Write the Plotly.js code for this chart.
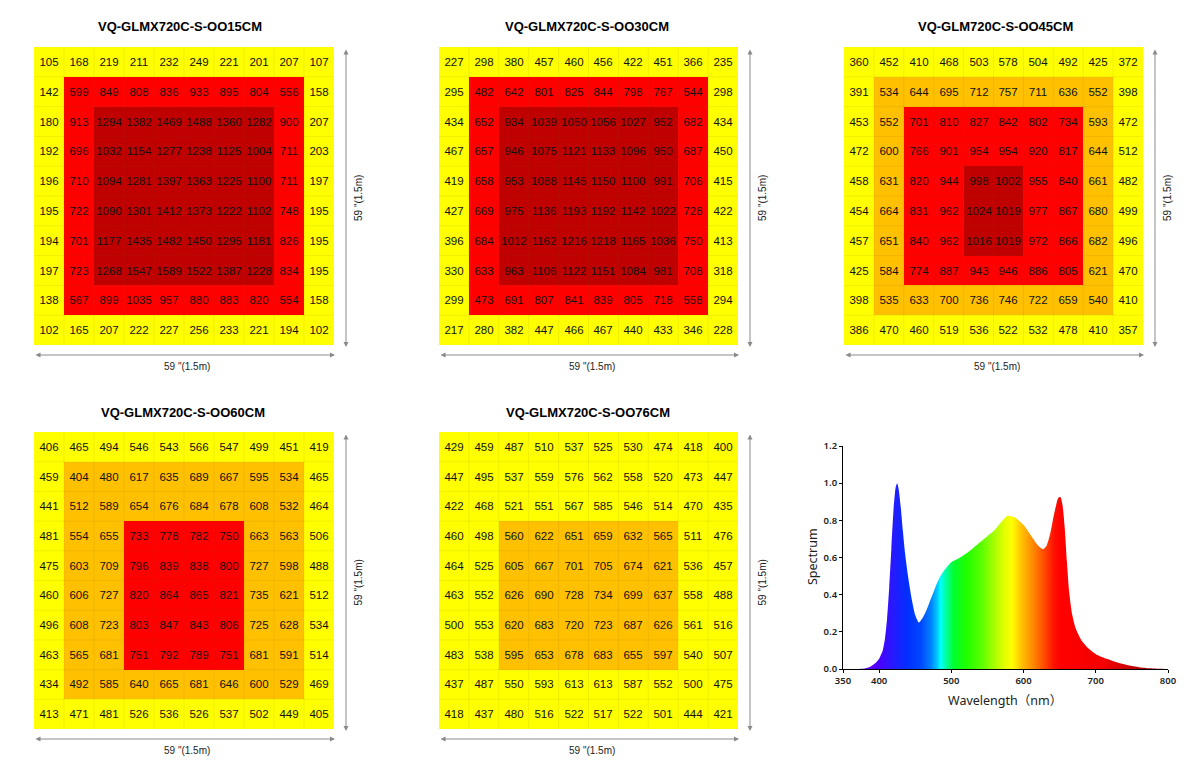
<!DOCTYPE html>
<html>
<head>
<meta charset="utf-8">
<script src="https://cdn.plot.ly/plotly-3.0.1.min.js"></script>
<style>html,body{margin:0;padding:0;background:#fff;}#chart{width:1200px;height:776px;}</style>
</head>
<body>
<div id="chart"></div>
<script>
// ---------- DATA ----------
const titles = ["VQ-GLMX720C-S-OO15CM", "VQ-GLMX720C-S-OO30CM", "VQ-GLM720C-S-OO45CM", "VQ-GLMX720C-S-OO60CM", "VQ-GLMX720C-S-OO76CM"];
const sizeLabel = '59 "(1.5m)';

const ppfd15 = [
  [105,168,219,211,232,249,221,201,207,107],
  [142,599,849,808,836,933,895,804,556,158],
  [180,913,1294,1382,1469,1488,1360,1282,900,207],
  [192,696,1032,1154,1277,1238,1125,1004,711,203],
  [196,710,1094,1281,1397,1363,1225,1100,711,197],
  [195,722,1090,1301,1412,1373,1222,1102,748,195],
  [194,701,1177,1435,1482,1450,1295,1181,826,195],
  [197,723,1268,1547,1589,1522,1387,1228,834,195],
  [138,567,899,1035,957,880,883,820,554,158],
  [102,165,207,222,227,256,233,221,194,102]
];
const ppfd30 = [
  [227,298,380,457,460,456,422,451,366,235],
  [295,482,642,801,825,844,798,767,544,298],
  [434,652,934,1039,1050,1056,1027,952,682,434],
  [467,657,946,1075,1121,1133,1096,950,687,450],
  [419,658,953,1088,1145,1150,1100,991,706,415],
  [427,669,975,1136,1193,1192,1142,1022,728,422],
  [396,684,1012,1162,1216,1218,1165,1036,750,413],
  [330,633,963,1106,1122,1151,1084,981,708,318],
  [299,473,691,807,841,839,805,718,558,294],
  [217,280,382,447,466,467,440,433,346,228]
];
const ppfd45 = [
  [360,452,410,468,503,578,504,492,425,372],
  [391,534,644,695,712,757,711,636,552,398],
  [453,552,701,810,827,842,802,734,593,472],
  [472,600,766,901,954,954,920,817,644,512],
  [458,631,820,944,998,1002,955,840,661,482],
  [454,664,831,962,1024,1019,977,867,680,499],
  [457,651,840,962,1016,1019,972,866,682,496],
  [425,584,774,887,943,946,886,805,621,470],
  [398,535,633,700,736,746,722,659,540,410],
  [386,470,460,519,536,522,532,478,410,357]
];
const ppfd60 = [
  [406,465,494,546,543,566,547,499,451,419],
  [459,404,480,617,635,689,667,595,534,465],
  [441,512,589,654,676,684,678,608,532,464],
  [481,554,655,733,778,782,750,663,563,506],
  [475,603,709,796,839,838,800,727,598,488],
  [460,606,727,820,864,865,821,735,621,512],
  [496,608,723,803,847,843,806,725,628,534],
  [463,565,681,751,792,789,751,681,591,514],
  [434,492,585,640,665,681,646,600,529,469],
  [413,471,481,526,536,526,537,502,449,405]
];
const ppfd76 = [
  [429,459,487,510,537,525,530,474,418,400],
  [447,495,537,559,576,562,558,520,473,447],
  [422,468,521,551,567,585,546,514,470,435],
  [460,498,560,622,651,659,632,565,511,476],
  [464,525,605,667,701,705,674,621,536,457],
  [463,552,626,690,728,734,699,637,558,488],
  [500,553,620,683,720,723,687,626,561,516],
  [483,538,595,653,678,683,655,597,540,507],
  [437,487,550,593,613,613,587,552,500,475],
  [418,437,480,516,522,517,522,501,444,421]
];
const ppfdAll = [ppfd15, ppfd30, ppfd45, ppfd60, ppfd76];

// colour zones (level, first row, last row, first col, last col); level 0 = yellow background
const zones15 = [[2,1,8,1,8],[3,2,7,2,7]];
const zones30 = [[2,1,8,1,8],[3,2,7,2,7]];
const zones45 = [[1,1,8,1,8],[2,2,7,2,7],[3,4,6,4,5]];
const zones60 = [[1,1,8,1,8],[2,3,7,3,6]];
const zones76 = [[1,3,7,2,7]];
const zonesAll = [zones15, zones30, zones45, zones60, zones76];

// spectrum
const wavelength = [350,370,380,385,390,395,400,405,408,411,414,417,420,423,425,427,430,433,436,440,445,450,455,461,466,470,475,480,485,490,500,510,520,530,540,550,560,570,578,585,590,600,610,620,627,632,637,641,645,648,651,654,657,660,663,667,672,680,690,700,715,730,745,760,775,790,800];
const spectrum   = [0,0,0.003,0.008,0.018,0.032,0.055,0.1,0.16,0.27,0.44,0.65,0.86,0.98,1.0,0.97,0.87,0.74,0.62,0.5,0.38,0.29,0.25,0.28,0.32,0.36,0.41,0.46,0.5,0.53,0.575,0.595,0.62,0.65,0.683,0.715,0.748,0.795,0.825,0.82,0.81,0.775,0.72,0.665,0.645,0.665,0.73,0.81,0.88,0.92,0.925,0.88,0.76,0.58,0.42,0.3,0.22,0.155,0.11,0.08,0.055,0.035,0.02,0.01,0.004,0.001,0];
const xTicks = [350,400,500,600,700,800];
const yTicks = [0,0.2,0.4,0.6,0.8,1.0,1.2];

// ---------- LAYOUT HELPERS ----------
const W = 1200, H = 776;
const px = v => v / W;
const py = v => 1 - v / H;
const boxes = [
  {x0:34, x1:334, y0:47, y1:345},
  {x0:439, x1:738, y0:47, y1:345},
  {x0:844, x1:1143, y0:47, y1:345},
  {x0:34, x1:334, y0:432, y1:729},
  {x0:439, x1:738, y0:432, y1:729}
];
const titlePos = [[180,27],[587,27],[995,27],[183,412],[588,412]];

const zoneColors = [[0,'#FFFF00'],[1/3,'#FFC000'],[2/3,'#FF0000'],[1,'#C00000']];

const traces = [];
const layout = {
  width: W, height: H,
  margin: {l:0, r:0, t:0, b:0},
  paper_bgcolor: '#ffffff', plot_bgcolor: '#ffffff',
  showlegend: false,
  shapes: [], annotations: []
};

ppfdAll.forEach((vals, i) => {
  const n = vals.length, m = vals[0].length;
  const z = vals.map(r => r.map(() => 0));
  zonesAll[i].forEach(([lvl, r0, r1, c0, c1]) => {
    for (let r = r0; r <= r1; r++) for (let c = c0; c <= c1; c++) z[r][c] = lvl;
  });
  const xa = 'x' + (i + 1), ya = 'y' + (i + 1);
  traces.push({
    type: 'heatmap', z: z, text: vals, texttemplate: '%{text}',
    textfont: {family: 'Liberation Sans, Arial, sans-serif', size: 11.5, color: '#111'},
    colorscale: zoneColors, zmin: 0, zmax: 3, showscale: false,
    hoverinfo: 'skip', xaxis: xa, yaxis: ya
  });
  const b = boxes[i];
  const axName = i === 0 ? '' : String(i + 1);
  layout['xaxis' + axName] = {domain: [px(b.x0), px(b.x1)], range: [-0.5, m - 0.5], visible: false, fixedrange: true, anchor: ya};
  layout['yaxis' + axName] = {domain: [py(b.y1), py(b.y0)], range: [n - 0.5, -0.5], visible: false, fixedrange: true, anchor: xa};
  // faint cell borders
  for (let k = 1; k < m; k++) layout.shapes.push({type:'line', xref:xa, yref:ya, x0:k-0.5, x1:k-0.5, y0:-0.5, y1:n-0.5, line:{color:'rgba(120,100,0,0.10)', width:1}, layer:'above'});
  for (let k = 1; k < n; k++) layout.shapes.push({type:'line', xref:xa, yref:ya, y0:k-0.5, y1:k-0.5, x0:-0.5, x1:m-0.5, line:{color:'rgba(120,100,0,0.10)', width:1}, layer:'above'});
  // title
  layout.annotations.push({text: '<b>' + titles[i] + '</b>', xref:'paper', yref:'paper', x:px(titlePos[i][0]), y:py(titlePos[i][1]), showarrow:false, xanchor:'center', yanchor:'middle', font:{family:'Liberation Sans, Arial, sans-serif', size:13, color:'#000'}});
  // dimension arrows
  const hy = b.y1 + 10, vx = b.x1 + 12;
  layout.annotations.push({text:'', xref:'paper', yref:'paper', axref:'paper', ayref:'paper', x:px(b.x1+1), y:py(hy), ax:px(b.x0), ay:py(hy), showarrow:true, arrowside:'end+start', arrowhead:2, arrowsize:1, arrowwidth:1, arrowcolor:'#8a8a8a', standoff:0, startstandoff:0});
  layout.annotations.push({text:'', xref:'paper', yref:'paper', axref:'paper', ayref:'paper', x:px(vx), y:py(b.y1+2), ax:px(vx), ay:py(b.y0+1), showarrow:true, arrowside:'end+start', arrowhead:2, arrowsize:1, arrowwidth:1, arrowcolor:'#8a8a8a', standoff:0, startstandoff:0});
  layout.annotations.push({text:sizeLabel, xref:'paper', yref:'paper', x:px((b.x0+b.x1)/2 + 3), y:py(hy + 11), showarrow:false, xanchor:'center', yanchor:'middle', font:{family:'Liberation Sans, Arial, sans-serif', size:10, color:'#222'}});
  layout.annotations.push({text:sizeLabel, xref:'paper', yref:'paper', x:px(vx + 12), y:py((b.y0+b.y1)/2 + 2), showarrow:false, textangle:-90, xanchor:'center', yanchor:'middle', font:{family:'Liberation Sans, Arial, sans-serif', size:10, color:'#222'}});
});

// spectrum
traces.push({
  type:'scatter', mode:'lines', x: wavelength, y: spectrum,
  line:{width:0, shape:'spline', smoothing:0.6, color:'rgba(0,0,0,0)'},
  fill:'tozeroy',
  fillgradient:{type:'horizontal', start:350, stop:800, colorscale:[
    [0.0,'#7000ff'],[0.08,'#6000ff'],[0.11,'#4a00ff'],[0.15,'#2a18ff'],[0.2,'#0030ff'],
    [0.24,'#0048ff'],[0.27,'#0080ff'],[0.29,'#00c8ff'],[0.3,'#00ffff'],[0.32,'#00ff90'],
    [0.34,'#00ff30'],[0.38,'#20ff00'],[0.43,'#60ff00'],[0.47,'#b0ff00'],[0.5,'#e8ff00'],
    [0.52,'#ffff00'],[0.55,'#ffc000'],[0.59,'#ff8000'],[0.62,'#ff4800'],[0.65,'#ff1000'],
    [0.67,'#ff0000'],[0.8,'#f40000'],[0.87,'#d00000'],[0.94,'#a80000'],[1.0,'#880000']
  ]},
  hoverinfo:'skip', xaxis:'x6', yaxis:'y6'
});
layout.xaxis6 = {domain:[px(843), px(1168)], range:[350,800], anchor:'y6', showline:true, linecolor:'#000', linewidth:1, ticks:'outside', ticklen:3, tickcolor:'#000', tickvals:xTicks, showgrid:false, zeroline:false, tickfont:{family:'Noto Sans, sans-serif', size:9.5, color:'#222', weight:600}, fixedrange:true};
layout.yaxis6 = {domain:[py(669), py(446)], range:[0,1.2], anchor:'x6', showline:true, linecolor:'#000', linewidth:1, ticks:'outside', ticklen:3, tickcolor:'#000', tickvals:yTicks, tickformat:'.1f', showgrid:false, zeroline:false, tickfont:{family:'Noto Sans, sans-serif', size:9.5, color:'#222', weight:600}, fixedrange:true};
layout.annotations.push({text:'Wavelength（nm）', xref:'paper', yref:'paper', x:px(1005), y:py(700), showarrow:false, xanchor:'center', yanchor:'middle', font:{family:'Noto Sans, Noto Sans CJK SC, sans-serif', size:12.5, color:'#222'}});
layout.annotations.push({text:'Spectrum', xref:'paper', yref:'paper', x:px(812), y:py(557), showarrow:false, textangle:-90, xanchor:'center', yanchor:'middle', font:{family:'Noto Sans, sans-serif', size:12.5, color:'#222'}});

Plotly.newPlot('chart', traces, layout, {displayModeBar:false, staticPlot:true});
</script>
</body>
</html>
